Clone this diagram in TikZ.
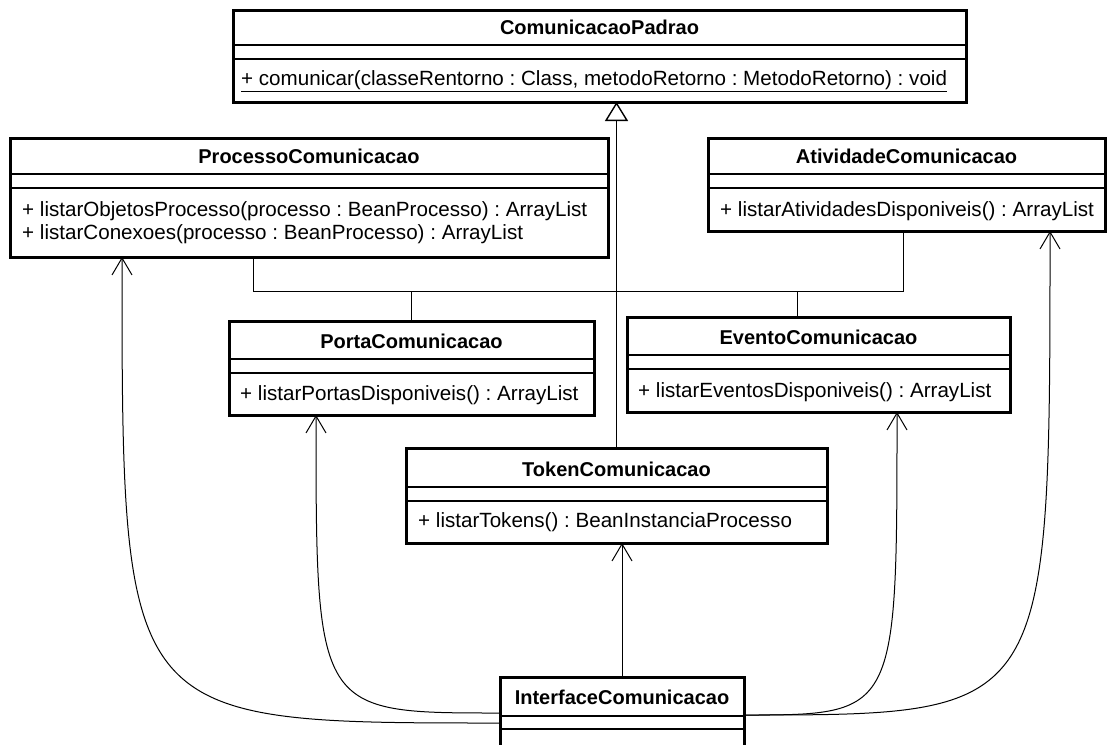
\documentclass[tikz,border=0pt]{standalone}
\usepackage{fontspec}
\setmainfont{Liberation Sans}
\usepackage{tikz}
\usetikzlibrary{arrows.meta, positioning, calc}
\frenchspacing

\begin{document}
\begin{tikzpicture}[x=1pt, y=-1pt,
    classbox/.style={draw, line width=3pt, anchor=north west, inner sep=0pt, outer sep=0pt},
    title/.style={font=\fontsize{20}{24}\selectfont\bfseries, inner sep=0pt},
    method/.style={font=\fontsize{20.6}{23}\selectfont, anchor=west, inner sep=0pt, align=left},
    divider/.style={line width=1.4pt},
    dep/.style={line width=1pt, -{Straight Barb[length=17pt, width=20pt]}},
    gen/.style={line width=1.4pt, -{Triangle[length=19pt, width=23pt, fill=white]}},
    tree/.style={line width=1pt}
]
\useasboundingbox (0,0) rectangle (1107,744);
\clip (0,0) rectangle (1107,744);

% ComunicacaoPadrao
\node[classbox, minimum width=733, minimum height=92] (padrao) at (233,10) {};
\node[title] at ([yshift=-17pt]padrao.north) {ComunicacaoPadrao};
\draw[divider] ([yshift=-35pt]padrao.north west) -- ([yshift=-35pt]padrao.north east);
\draw[divider] ([yshift=-49pt]padrao.north west) -- ([yshift=-49pt]padrao.north east);
\node[method] at ([xshift=8pt, yshift=-71pt]padrao.north west) {\underline{+ comunicar(classeRentorno : Class, metodoRetorno : MetodoRetorno) : void}};

% ProcessoComunicacao
\node[classbox, minimum width=598, minimum height=119] (proc) at (10,138) {};
\node[title] at ([yshift=-18pt]proc.north) {ProcessoComunicacao};
\draw[divider] ([yshift=-36pt]proc.north west) -- ([yshift=-36pt]proc.north east);
\draw[divider] ([yshift=-50pt]proc.north west) -- ([yshift=-50pt]proc.north east);
\node[method] at ([xshift=12pt, yshift=-73pt]proc.north west) {+ listarObjetosProcesso(processo : BeanProcesso) : ArrayList};
\node[method] at ([xshift=12pt, yshift=-96pt]proc.north west) {+ listarConexoes(processo : BeanProcesso) : ArrayList};

% AtividadeComunicacao
\node[classbox, minimum width=397, minimum height=93] (ativ) at (708,138) {};
\node[title] at ([yshift=-18pt]ativ.north) {AtividadeComunicacao};
\draw[divider] ([yshift=-36pt]ativ.north west) -- ([yshift=-36pt]ativ.north east);
\draw[divider] ([yshift=-50pt]ativ.north west) -- ([yshift=-50pt]ativ.north east);
\node[method] at ([xshift=12pt, yshift=-73pt]ativ.north west) {+ listarAtividadesDisponiveis() : ArrayList};

% PortaComunicacao
\node[classbox, minimum width=365, minimum height=94] (porta) at (229,321) {};
\node[title] at ([yshift=-20pt]porta.north) {PortaComunicacao};
\draw[divider] ([yshift=-38pt]porta.north west) -- ([yshift=-38pt]porta.north east);
\draw[divider] ([yshift=-52pt]porta.north west) -- ([yshift=-52pt]porta.north east);
\node[method] at ([xshift=11pt, yshift=-74pt]porta.north west) {+ listarPortasDisponiveis() : ArrayList};

% EventoComunicacao
\node[classbox, minimum width=383, minimum height=95] (evento) at (627,317) {};
\node[title] at ([yshift=-20pt]evento.north) {EventoComunicacao};
\draw[divider] ([yshift=-38pt]evento.north west) -- ([yshift=-38pt]evento.north east);
\draw[divider] ([yshift=-52pt]evento.north west) -- ([yshift=-52pt]evento.north east);
\node[method] at ([xshift=11pt, yshift=-75pt]evento.north west) {+ listarEventosDisponiveis() : ArrayList};

% TokenComunicacao
\node[classbox, minimum width=421, minimum height=95] (token) at (406,448) {};
\node[title] at ([yshift=-21pt]token.north) {TokenComunicacao};
\draw[divider] ([yshift=-39pt]token.north west) -- ([yshift=-39pt]token.north east);
\draw[divider] ([yshift=-53pt]token.north west) -- ([yshift=-53pt]token.north east);
\node[method] at ([xshift=12pt, yshift=-74pt]token.north west) {+ listarTokens() : BeanInstanciaProcesso};

% InterfaceComunicacao
\node[classbox, minimum width=244, minimum height=100] (iface) at (500,677) {};
\node[title] at ([yshift=-20pt]iface.north) {InterfaceComunicacao};
\draw[divider] ([yshift=-39pt]iface.north west) -- ([yshift=-39pt]iface.north east);
\draw[divider] ([yshift=-52pt]iface.north west) -- ([yshift=-52pt]iface.north east);

% Generalizacao
\coordinate (merge) at (token.north |- 0,291);
\draw[gen] (token.north) -- (token.north |- padrao.south);
\draw[tree] ([xshift=243pt]proc.south west) |- (merge);
\draw[tree] ([xshift=195pt]ativ.south west) |- (merge);
\draw[tree] ([xshift=182pt]porta.north west) |- (merge);
\draw[tree] ([xshift=170pt]evento.north west) |- (merge);

% Dependencias
\coordinate (ifL1) at ([yshift=-46pt]iface.north west);
\coordinate (ifL2) at ([yshift=-36pt]iface.north west);
\coordinate (ifR) at ([yshift=-38pt]iface.north east);
\coordinate (procIn) at ([xshift=112pt]proc.south west);
\coordinate (portaIn) at ([xshift=87pt]porta.south west);
\coordinate (eventoIn) at ([xshift=270pt]evento.south west);
\coordinate (ativIn) at ([xshift=342pt]ativ.south west);
\draw[dep] (ifL1) .. controls (procIn |- ifL1) .. (procIn);
\draw[dep] (ifL2) .. controls (portaIn |- ifL2) .. (portaIn);
\draw[dep] (iface.north) -- (iface.north |- token.south);
\draw[dep] (ifR) .. controls (eventoIn |- ifR) .. (eventoIn);
\draw[dep] (ifR) .. controls (ativIn |- ifR) .. (ativIn);

\end{tikzpicture}
\end{document}
